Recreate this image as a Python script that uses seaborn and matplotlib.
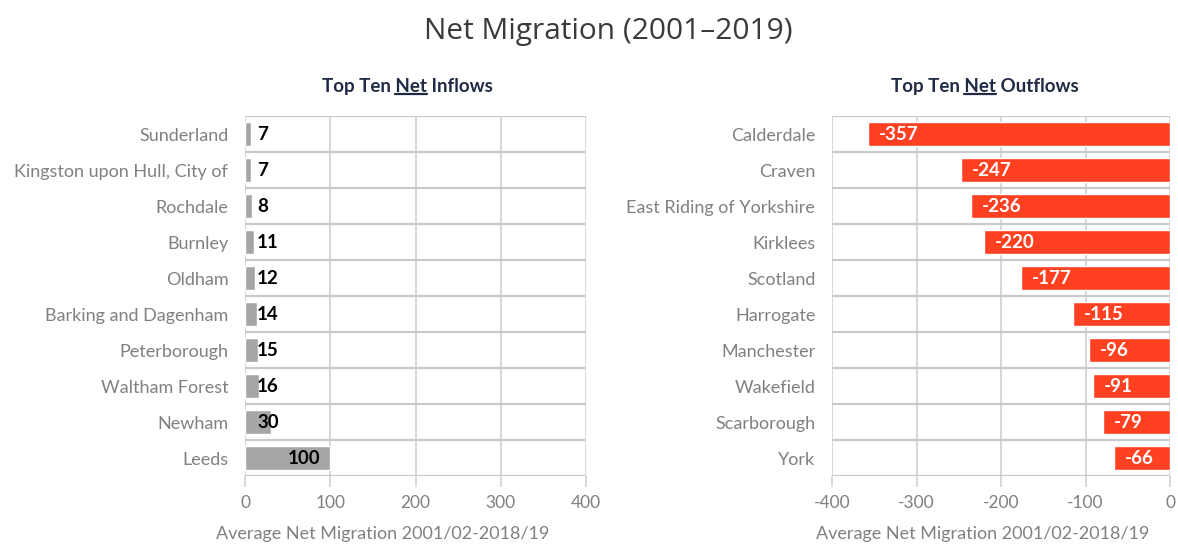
import matplotlib
matplotlib.use("Agg")
import matplotlib.pyplot as plt
import seaborn as sns
import pandas as pd
from matplotlib.lines import Line2D

# Data
inflow_places = ["Sunderland", "Kingston upon Hull, City of", "Rochdale", "Burnley",
                 "Oldham", "Barking and Dagenham", "Peterborough", "Waltham Forest",
                 "Newham", "Leeds"]
inflow_values = [7, 7, 8, 11, 12, 14, 15, 16, 30, 100]

outflow_places = ["Calderdale", "Craven", "East Riding of Yorkshire", "Kirklees",
                  "Scotland", "Harrogate", "Manchester", "Wakefield",
                  "Scarborough", "York"]
outflow_values = [-357, -247, -236, -220, -177, -115, -96, -91, -79, -66]

inflow_ticks = [0, 100, 200, 300, 400]
outflow_ticks = [-400, -300, -200, -100, 0]

sns.set_theme(style="white")
plt.rcParams["font.family"] = ["Lato", "DejaVu Sans"]

GRAY_TXT = "#808080"
GRID = "#D4D4D4"
NAVY = "#1F2A44"

fig = plt.figure(figsize=(11.78, 5.5), dpi=100)
ax1 = fig.add_axes([0.208, 0.1345, 0.2895, 0.6545])
ax2 = fig.add_axes([0.7063, 0.1345, 0.287, 0.6545])

df_in = pd.DataFrame({"place": inflow_places, "value": inflow_values})
df_out = pd.DataFrame({"place": outflow_places, "value": outflow_values})

sns.barplot(data=df_in, x="value", y="place", orient="h", color="#A6A6A6",
            saturation=1, width=0.65, ax=ax1, zorder=3)
sns.barplot(data=df_out, x="value", y="place", orient="h", color="#FF4122",
            saturation=1, width=0.65, ax=ax2, zorder=3)


def style_axis(ax, ticks):
    ax.set_xlim(ticks[0], ticks[-1])
    ax.set_ylim(9.5, -0.5)
    ax.set_xticks(ticks)
    ax.set_xticklabels([str(t) for t in ticks])
    ax.set_yticks(range(10), minor=False)
    ax.set_yticks([i - 0.5 for i in range(11)], minor=True)
    for s in ax.spines.values():
        s.set_visible(False)
    ax.grid(True, axis="x", which="major", color=GRID, lw=1.3, zorder=0)
    ax.grid(True, axis="y", which="minor", color="#C9C9C9", lw=1.6, zorder=0)
    ax.tick_params(axis="x", which="major", length=8, width=1.3, color=GRID,
                   labelsize=12.5, labelcolor=GRAY_TXT, pad=6, direction="out",
                   bottom=True)
    ax.tick_params(axis="y", which="both", length=0, labelsize=13,
                   labelcolor=GRAY_TXT, pad=12)
    ax.set_ylabel("")
    ax.set_xlabel("Average Net Migration 2001/02-2018/19", fontsize=13,
                  color=GRAY_TXT)


style_axis(ax1, inflow_ticks)
style_axis(ax2, outflow_ticks)
ax1.xaxis.set_label_coords(0.405, -0.14)
ax2.xaxis.set_label_coords(0.445, -0.14)

# value labels
for i, v in enumerate(inflow_values):
    if v < 50:
        ax1.text(14, i, str(v), ha="left", va="center", fontsize=13.5,
                 fontweight="bold", color="black", zorder=4)
    else:
        ax1.text(v - 12, i, str(v), ha="right", va="center", fontsize=13.5,
                 fontweight="bold", color="black", zorder=4)
for i, v in enumerate(outflow_values):
    ax2.text(v + 13, i, str(v), ha="left", va="center", fontsize=13.5,
             fontweight="bold", color="white", zorder=4)

# titles
fig.text(0.516, 0.943, "Net Migration (2001\u20132019)", ha="center", va="center",
         fontsize=21.5, color="#3A3A3A", family=["Open Sans", "DejaVu Sans"])

sub_titles = [(0.3455, "Top Ten Net Inflows"), (0.836, "Top Ten Net Outflows")]
fig.canvas.draw()
renderer = fig.canvas.get_renderer()
for xc, txt in sub_titles:
    t = fig.text(xc, 0.842, txt, ha="center", va="center", fontsize=13.5,
                 fontweight="bold", color=NAVY)
    bb = t.get_window_extent(renderer)
    probe1 = fig.text(0, 0, "Top Ten Net", fontsize=13.5, fontweight="bold")
    probe2 = fig.text(0, 0, "Net", fontsize=13.5, fontweight="bold")
    w1 = probe1.get_window_extent(renderer).width
    w2 = probe2.get_window_extent(renderer).width
    probe1.remove()
    probe2.remove()
    x_end = bb.x0 + w1
    x_start = x_end - w2
    y_line = bb.y0 + 1
    W, H = fig.bbox.width, fig.bbox.height
    fig.add_artist(Line2D([x_start / W, x_end / W], [y_line / H, y_line / H],
                          color=NAVY, lw=1.6, transform=fig.transFigure))

fig.savefig("out.png", dpi=100)
